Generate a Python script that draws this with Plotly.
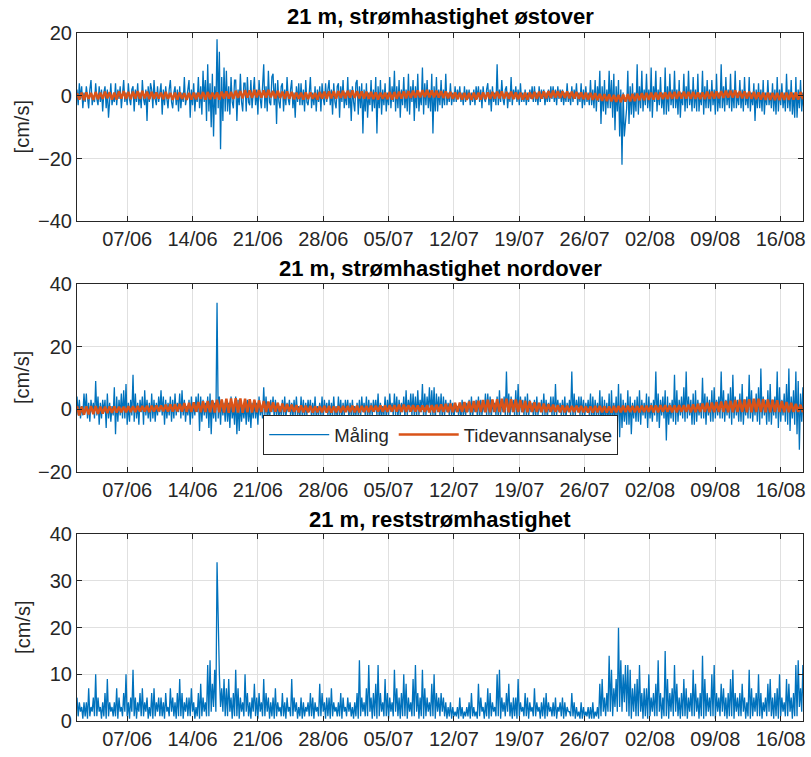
import pandas as pd
import plotly.graph_objects as go

# ---------------- data ----------------
start_time = "2023-06-01 15:00"
x_range = ["2023-06-01 15:00", "2023-08-18 09:20"]
tick_start = "2023-06-07"
tick_labels_fmt = "%d/%m"

# measured series: 3-hourly, one row per day
east_meas = [
    2, -3, 4, -1, 3, -4, 1, -2,
    3, -2, -4, 2, 5, -3, 0, -2,
    4, -1, -3, 3, -2, 2, -5, 1,
    3, -4, 2, -7, 1, 4, -3, 0,
    -2, 4, -3, 2, -1, 3, -4, 2,
    5, -2, 1, -3, 4, -1, -3, 2,
    3, -5, 2, -2, 4, -3, 1, -4,
    5, -1, -3, 2, -8, 3, -2, 4,
    2, -4, 5, -1, -3, 3, -2, 1,
    4, -6, 2, -3, 3, -1, -4, 2,
    5, -2, -4, 1, 3, -3, 2, -5,
    3, -4, 1, -2, 6, -3, -1, 2,
    5, -7, 2, -3, 4, -5, 1, -2,
    6, -4, 3, -6, 8, -2, 5, -8,
    10, -5, 4, -10, 7, -13, 3, -6,
    18, -4, 14, -17, 6, -8, 9, -5,
    8, -5, 3, -6, 6, -2, -4, 5,
    5, -8, 2, -3, 7, -2, -5, 4,
    4, -5, 6, -2, -3, 5, -4, 2,
    6, -3, 2, -6, 5, -1, -4, 3,
    10, -4, 3, -5, 8, -2, -3, 6,
    7, -3, 4, -9, 5, -2, -4, 3,
    4, -5, 2, -3, 6, -1, -3, 2,
    5, -4, 1, -7, 3, -2, 4, -3,
    4, -3, 2, -5, 5, -2, -3, 1,
    6, -4, 1, -3, 3, -5, 2, -2,
    3, -5, 4, -1, -3, 4, -2, 2,
    5, -3, 2, -6, 4, -2, -4, 3,
    4, -7, 3, -2, 5, -4, 1, -3,
    6, -4, 2, -8, 3, -2, -5, 4,
    5, -6, 3, -4, 4, -12, 2, -5,
    4, -7, 1, -3, 5, -5, 2, -4,
    6, -12, 3, -4, 5, -6, 2, -3,
    4, -5, 1, -3, 6, -4, 3, -2,
    8, -5, 3, -4, 5, -7, 2, -3,
    6, -4, 2, -5, 7, -6, 3, -2,
    5, -8, 3, -4, 7, -5, 1, -3,
    9, -6, 4, -3, 5, -4, 2, -5,
    7, -12, 3, -5, 6, -5, 2, -3,
    5, -4, 2, -3, 7, -3, 1, -2,
    4, -3, 1, -2, 3, -2, 2, -1,
    3, -2, 1, -3, 3, -2, 2, -1,
    2, -3, 1, -2, 2, -3, 3, -1,
    3, -2, 2, -4, 3, -1, -2, 2,
    4, -3, 2, -5, 3, -2, 1, -3,
    10, -3, 2, -2, 5, -1, -3, 2,
    3, -4, 1, -2, 6, -3, 2, -1,
    3, -2, 2, -3, 4, -2, 1, -2,
    2, -3, 1, -2, 2, -1, 3, -2,
    3, -2, 1, -3, 3, -2, 2, -1,
    2, -3, 1, -2, 2, -2, 3, -1,
    3, -2, 2, -3, 3, -1, 2, -2,
    2, -3, 1, -2, 4, -2, 1, -3,
    3, -2, 2, -1, 4, -3, 1, -2,
    4, -4, 2, -3, 3, -2, 1, -3,
    5, -3, 2, -4, 5, -5, 3, -2,
    8, -9, 3, -5, 5, -6, 2, -4,
    8, -4, 5, -7, 7, -11, 3, -5,
    5, -13, 2, -22, 1, -13, -8, -4,
    8, -9, 3, -6, 4, -7, 1, -5,
    10, -6, 3, -4, 8, -5, 2, -3,
    7, -4, 2, -5, 9, -7, 3, -2,
    8, -5, 2, -3, 6, -4, 1, -6,
    9, -6, 3, -5, 7, -3, 2, -4,
    8, -4, 2, -6, 5, -7, 1, -3,
    7, -5, 3, -4, 8, -3, 2, -5,
    6, -4, 2, -5, 7, -5, 1, -3,
    8, -6, 3, -4, 5, -4, 2, -5,
    5, -3, 2, -6, 7, -5, 1, -4,
    10, -4, 3, -5, 6, -3, 2, -4,
    7, -5, 2, -4, 8, -4, 1, -3,
    5, -4, 2, -5, 6, -3, 1, -4,
    6, -5, 1, -3, 4, -8, 2, -4,
    4, -4, 2, -5, 5, -6, 1, -3,
    5, -3, 1, -4, 4, -5, 2, -6,
    6, -5, 2, -3, 4, -4, 1, -5,
    7, -4, 2, -5, 5, -6, 1, -7,
    6, -7, 2, -4, 5, -5, 1, -6,
]

north_meas = [
    4, -2, 3, -3, 1, -2, 5, -1,
    5, -3, 2, -4, 3, -1, 2, -3,
    9, -2, 4, -5, 2, -3, 3, -1,
    3, -6, 5, -3, 2, -4, 1, -2,
    7, -8, 4, -4, 3, -2, 5, -3,
    6, -3, 8, -5, 2, -4, 3, -2,
    11, -4, 5, -3, 2, -5, 3, -1,
    4, -5, 6, -2, 3, -3, 2, -4,
    5, -3, 3, -4, 2, -2, 4, -1,
    6, -2, 4, -5, 3, -3, 2, -2,
    4, -4, 3, -3, 5, -2, 2, -1,
    5, -3, 6, -2, 3, -4, 1, -2,
    3, -5, 4, -3, 2, -2, 4, -1,
    5, -7, 4, -4, 3, -2, 2, -3,
    4, -6, 5, -8, 3, -3, 2, -4,
    34, -3, 4, -5, 3, -2, 2, -4,
    3, -4, 2, -6, 4, -3, 1, -5,
    4, -8, 3, -7, 2, -4, 1, -3,
    2, -5, 3, -4, 1, -6, 2, -3,
    3, -3, 2, -5, 4, -2, 1, -3,
    7, -2, 4, -3, 2, -4, 3, -1,
    4, -3, 3, -2, 2, -3, 1, -2,
    3, -2, 4, -3, 2, -1, 3, -2,
    2, -3, 3, -2, 4, -2, 1, -3,
    4, -2, 3, -3, 2, -2, 3, -1,
    3, -3, 2, -2, 4, -3, 1, -2,
    2, -2, 4, -3, 3, -1, 2, -2,
    3, -3, 2, -2, 4, -2, 1, -3,
    4, -2, 3, -3, 2, -2, 3, -1,
    3, -3, 2, -2, 3, -3, 1, -2,
    2, -2, 3, -3, 4, -1, 2, -2,
    4, -3, 3, -2, 2, -2, 3, -1,
    3, -2, 5, -3, 2, -3, 1, -2,
    4, -3, 3, -2, 5, -1, 2, -2,
    5, -2, 4, -3, 3, -2, 2, -1,
    4, -3, 6, -2, 3, -1, 5, -2,
    5, -2, 4, -3, 6, -2, 3, -1,
    8, -3, 5, -2, 4, -1, 7, -2,
    6, -2, 7, -4, 5, -1, 4, -2,
    5, -3, 4, -2, 3, -1, 2, -2,
    3, -2, 2, -3, 2, -1, 1, -2,
    2, -3, 3, -2, 1, -2, 2, -1,
    3, -2, 4, -3, 2, -1, 3, -2,
    4, -3, 3, -2, 2, -1, 5, -2,
    5, -2, 4, -3, 3, -1, 2, -2,
    4, -3, 6, -2, 3, -1, 4, -2,
    12, -2, 5, -3, 4, -1, 3, -2,
    6, -3, 8, -2, 4, -1, 3, -2,
    4, -2, 5, -3, 3, -1, 2, -2,
    3, -3, 4, -2, 2, -1, 3, -2,
    5, -2, 3, -3, 2, -1, 4, -2,
    4, -3, 8, -2, 3, -1, 2, -2,
    3, -2, 4, -3, 2, -1, 3, -2,
    12, -3, 5, -2, 3, -1, 4, -2,
    4, -2, 3, -3, 2, -1, 3, -2,
    5, -4, 4, -3, 3, -2, 2, -3,
    6, -5, 4, -6, 3, -3, 2, -4,
    5, -7, 6, -4, 2, -3, 4, -5,
    8, -9, 5, -6, 3, -4, 2, -5,
    6, -5, 4, -8, 2, -3, 3, -4,
    4, -4, 6, -5, 3, -2, 2, -3,
    5, -6, 4, -3, 2, -4, 3, -2,
    12, -4, 5, -6, 3, -2, 4, -3,
    6, -10, 4, -5, 2, -3, 3, -4,
    11, -5, 6, -4, 3, -2, 4, -3,
    7, -4, 12, -3, 4, -2, 3, -5,
    5, -5, 6, -4, 3, -2, 2, -3,
    10, -3, 5, -5, 4, -2, 3, -4,
    6, -4, 7, -3, 3, -2, 4, -3,
    12, -3, 6, -4, 3, -2, 5, -3,
    7, -5, 11, -3, 4, -2, 3, -4,
    5, -4, 8, -5, 3, -2, 4, -3,
    11, -3, 6, -4, 3, -2, 5, -4,
    7, -5, 13, -3, 4, -2, 3, -5,
    6, -4, 8, -5, 3, -2, 4, -3,
    12, -6, 7, -4, 3, -2, 5, -4,
    8, -5, 13, -7, 4, -3, 6, -5,
    12, -8, 9, -13, 5, -4, 7, -10,
]

resid_meas = [
    5, 1, 4, 2, 3, 0.5, 4, 1,
    4, 0.5, 7, 1, 3, 2, 5, 1,
    10, 1, 5, 2, 3, 0.5, 4, 1,
    6, 0.5, 9, 1, 4, 2, 3, 1,
    4, 1, 7, 0.5, 5, 2, 3, 1,
    6, 2, 10, 1, 4, 0.5, 5, 2,
    11, 1, 5, 0.5, 4, 2, 6, 1,
    7, 1, 4, 2, 5, 0.5, 3, 1,
    6, 0.5, 7, 1, 4, 2, 5, 1,
    5, 1, 4, 0.5, 6, 2, 3, 1,
    7, 2, 5, 1, 4, 0.5, 6, 1,
    9, 1, 6, 0.5, 4, 2, 5, 1,
    5, 1, 7, 2, 4, 0.5, 3, 1,
    6, 0.5, 8, 1, 5, 2, 4, 1,
    12, 1, 13, 2, 8, 3, 11, 2,
    34, 18, 10, 3, 7, 2, 9, 1,
    7, 1, 9, 2, 5, 0.5, 6, 1,
    11, 1, 7, 0.5, 5, 2, 4, 1,
    10, 2, 6, 1, 4, 0.5, 5, 2,
    8, 1, 5, 0.5, 6, 2, 4, 1,
    9, 1, 6, 2, 5, 0.5, 4, 1,
    5, 0.5, 7, 1, 4, 2, 3, 1,
    6, 1, 4, 0.5, 5, 2, 3, 1,
    9, 1, 5, 2, 4, 0.5, 3, 1,
    5, 0.5, 4, 1, 3, 2, 4, 1,
    6, 1, 5, 0.5, 4, 2, 3, 1,
    8, 1, 6, 2, 4, 0.5, 5, 1,
    5, 0.5, 7, 1, 4, 2, 3, 1,
    4, 1, 6, 0.5, 5, 2, 3, 1,
    5, 2, 4, 1, 3, 0.5, 4, 1,
    6, 0.5, 13, 1, 5, 2, 4, 1,
    7, 1, 12, 2, 5, 0.5, 6, 1,
    8, 0.5, 12, 1, 6, 2, 4, 1,
    9, 1, 6, 0.5, 5, 2, 4, 1,
    11, 2, 7, 1, 5, 0.5, 6, 1,
    10, 1, 8, 0.5, 5, 2, 4, 1,
    9, 1, 12, 2, 6, 0.5, 5, 1,
    11, 0.5, 7, 1, 5, 2, 4, 1,
    8, 1, 10, 0.5, 6, 2, 5, 1,
    6, 2, 5, 1, 4, 0.5, 3, 1,
    4, 0.5, 3, 1, 2, 1, 3, 0.5,
    5, 1, 3, 0.5, 2, 1, 3, 1,
    4, 0.5, 6, 1, 3, 1, 2, 0.5,
    8, 1, 5, 2, 3, 0.5, 4, 1,
    7, 0.5, 6, 1, 4, 2, 3, 1,
    10, 1, 11, 0.5, 5, 2, 4, 1,
    6, 2, 8, 1, 4, 0.5, 5, 1,
    5, 0.5, 9, 1, 4, 2, 3, 1,
    6, 1, 5, 0.5, 4, 2, 3, 1,
    7, 1, 4, 2, 3, 0.5, 4, 1,
    5, 0.5, 6, 1, 4, 2, 3, 1,
    4, 1, 5, 0.5, 3, 2, 4, 1,
    5, 0.5, 4, 1, 3, 2, 2, 1,
    6, 1, 4, 0.5, 3, 1, 2, 0.5,
    4, 0.5, 3, 1, 2, 1, 3, 0.5,
    3, 0.5, 4, 0.5, 2, 1, 3, 0.5,
    8, 1, 9, 2, 5, 1, 6, 2,
    14, 2, 11, 1, 7, 3, 9, 2,
    20, 3, 13, 2, 10, 4, 12, 2,
    12, 1, 11, 0.5, 7, 2, 8, 1,
    9, 1, 12, 2, 6, 0.5, 7, 1,
    7, 0.5, 10, 1, 5, 2, 6, 1,
    8, 1, 13, 2, 6, 0.5, 5, 1,
    15, 1, 9, 0.5, 6, 2, 7, 1,
    12, 2, 8, 1, 5, 0.5, 6, 1,
    9, 1, 7, 0.5, 5, 2, 6, 1,
    11, 1, 8, 2, 5, 0.5, 6, 1,
    14, 0.5, 9, 1, 6, 2, 5, 1,
    10, 1, 12, 0.5, 6, 2, 5, 1,
    8, 2, 7, 1, 5, 0.5, 6, 1,
    9, 1, 11, 0.5, 6, 2, 5, 1,
    6, 1, 8, 2, 5, 0.5, 4, 1,
    11, 0.5, 7, 1, 5, 2, 6, 1,
    10, 1, 6, 0.5, 4, 2, 5, 1,
    8, 2, 9, 1, 5, 0.5, 6, 1,
    7, 0.5, 10, 1, 5, 2, 4, 1,
    9, 1, 8, 2, 5, 0.5, 6, 1,
    12, 1, 13, 3, 7, 2, 12, 1,
]

# tidal analysis: 6-hourly
east_tide = [
    0.8, -1.2, 1.0, -1.4, 1.1, -1.0, 0.9, -1.3, 1.2, -1.1, 1.0, -1.0, 1.3, -0.8, 1.1, -1.2,
    1.0, -1.2, 1.4, -0.9, 1.5, -1.0, 1.2, -1.1, 1.3, -0.9, 1.5, -1.0, 1.6, -0.8, 1.3, -1.1,
    1.2, -1.0, 1.1, -0.9, 1.0, -1.1, 1.2, -1.0, 0.9, -1.3, 1.0, -1.2, 1.1, -1.0, 0.8, -1.3,
    0.9, -1.2, 1.0, -1.1, 1.0, -1.0, 1.2, -1.2, 1.2, -1.1, 1.0, -1.0, 1.1, -1.2, 1.3, -0.9,
    1.4, -0.9, 1.2, -1.0, 1.6, -0.7, 1.5, -0.8, 1.8, -0.6, 1.7, -0.7, 1.9, -0.5, 1.8, -0.6,
    1.7, -0.6, 1.9, -0.5, 1.5, -0.8, 1.6, -0.7, 1.3, -1.0, 1.4, -0.9, 1.2, -1.1, 1.0, -1.0,
    1.0, -1.2, 1.1, -1.1, 1.1, -1.0, 0.9, -1.2, 1.2, -0.9, 1.3, -1.0, 1.4, -0.8, 1.5, -0.9,
    1.5, -0.7, 1.6, -0.8, 1.6, -0.6, 1.7, -0.7, 1.5, -0.8, 1.4, -0.9, 1.3, -1.0, 1.2, -1.1,
    1.1, -1.2, 1.0, -1.0, 1.0, -1.1, 1.2, -1.2, 1.2, -1.0, 1.3, -0.9, 1.4, -0.8, 1.5, -0.7,
    1.6, -0.6, 1.7, -0.5, 1.8, -0.4, 1.9, -0.5, 1.7, -0.5, 1.6, -0.6, 1.5, -0.7, 1.4, -0.8,
    1.2, -1.0, 1.1, -1.1, 1.0, -1.2, 0.9, -1.3, 0.9, -1.3, 1.0, -1.2, 1.0, -1.2, 1.1, -1.1,
    1.1, -1.0, 1.2, -0.9, 1.3, -0.8, 1.4, -0.9, 1.2, -1.0, 1.3, -1.1, 1.1, -1.1, 1.0, -1.2,
    1.0, -1.2, 1.1, -1.0, 1.2, -1.0, 1.3, -0.9, 1.4, -0.8, 1.5, -0.7, 1.6, -0.6, 1.5, -0.7,
    1.5, -0.7, 1.4, -0.8, 1.3, -0.9, 1.2, -1.0, 1.1, -1.1, 1.0, -1.2, 0.9, -1.3, 0.8, -1.4,
    0.6, -1.6, 0.5, -1.7, 0.4, -1.8, 0.3, -1.9, 0.3, -2.0, 0.4, -1.9, 0.5, -1.8, 0.6, -1.7,
    0.7, -1.5, 0.8, -1.4, 0.9, -1.3, 1.0, -1.2, 1.0, -1.2, 1.1, -1.1, 1.1, -1.1, 1.2, -1.0,
    1.2, -1.0, 1.3, -0.9, 1.3, -0.9, 1.2, -1.0, 1.2, -1.0, 1.1, -1.1, 1.1, -1.1, 1.3, -1.0,
    1.3, -0.9, 1.4, -0.8, 1.5, -0.7, 1.6, -0.6, 1.6, -0.6, 1.7, -0.7, 1.5, -0.8, 1.4, -0.9,
    1.3, -1.0, 1.2, -1.1, 1.1, -1.2, 1.0, -1.3, 1.0, -1.3, 0.9, -1.4, 0.9, -1.4, 1.0, -1.3,
    1.0, -1.3, 1.1, -1.2, 1.1, -1.2, 1.2, -1.1,
]

north_tide = [
    1.0, -2.0, 0.8, -1.8, 0.9, -1.7, 1.0, -1.6, 1.0, -1.5, 0.8, -1.4, 0.8, -1.3, 0.9, -1.2,
    0.9, -1.1, 0.8, -1.0, 0.8, -1.0, 0.9, -0.9, 0.9, -0.9, 1.0, -0.8, 1.0, -0.8, 1.1, -0.9,
    1.1, -0.8, 1.2, -0.7, 1.2, -0.7, 1.4, -0.8, 1.5, -0.8, 1.6, -0.7, 1.7, -0.8, 1.9, -0.9,
    2.0, -0.9, 2.2, -0.8, 2.3, -1.0, 2.5, -0.9, 2.6, -1.0, 2.8, -1.1, 3.0, -1.0, 3.1, -1.1,
    3.3, -1.2, 3.4, -1.0, 3.5, -1.1, 3.4, -1.2, 3.3, -1.0, 3.2, -1.1, 3.0, -1.0, 2.8, -0.9,
    2.6, -0.9, 2.4, -0.8, 2.2, -0.8, 2.0, -0.9, 1.8, -0.9, 1.6, -0.8, 1.4, -0.9, 1.3, -1.0,
    1.2, -1.0, 1.1, -1.0, 1.0, -1.1, 0.9, -1.0, 0.9, -1.0, 1.0, -1.1, 1.0, -1.1, 0.9, -1.0,
    0.9, -1.0, 1.0, -0.9, 1.0, -0.9, 1.1, -1.0, 1.1, -1.0, 1.0, -0.9, 1.0, -0.9, 1.1, -0.8,
    1.1, -0.8, 1.2, -0.9, 1.2, -0.9, 1.3, -0.8, 1.3, -0.8, 1.4, -0.9, 1.4, -0.9, 1.3, -0.8,
    1.3, -0.8, 1.2, -0.9, 1.2, -0.9, 1.3, -1.0, 1.3, -1.0, 1.4, -0.9, 1.5, -0.9, 1.7, -1.0,
    1.8, -1.0, 2.0, -0.9, 2.1, -0.9, 2.3, -1.0, 2.4, -1.0, 2.6, -0.9, 2.7, -0.9, 2.9, -1.0,
    3.0, -1.0, 3.1, -0.9, 3.2, -0.9, 3.3, -1.0, 3.3, -1.0, 3.2, -0.9, 3.1, -0.9, 2.9, -1.0,
    2.7, -1.0, 2.5, -0.9, 2.2, -0.9, 2.0, -1.0, 1.8, -1.0, 1.6, -0.9, 1.4, -0.9, 1.3, -1.0,
    1.2, -1.0, 1.1, -0.9, 1.0, -0.9, 1.1, -1.0, 1.0, -1.0, 0.9, -1.1, 0.9, -1.1, 1.0, -1.0,
    1.0, -1.0, 0.9, -1.1, 0.9, -1.1, 1.0, -1.0, 1.0, -1.0, 1.1, -0.9, 1.1, -0.9, 1.0, -1.0,
    1.0, -1.0, 1.1, -0.9, 1.1, -0.9, 1.2, -1.0, 1.2, -1.0, 1.3, -0.9, 1.3, -0.9, 1.2, -1.0,
    1.2, -1.0, 1.3, -0.9, 1.3, -0.9, 1.4, -1.0, 1.5, -1.0, 1.7, -0.9, 1.8, -0.9, 2.0, -1.0,
    2.1, -1.0, 2.3, -0.9, 2.4, -0.9, 2.6, -1.0, 2.7, -1.0, 2.9, -0.9, 3.0, -0.9, 3.1, -1.0,
    3.2, -1.0, 3.3, -0.9, 3.3, -0.9, 3.2, -1.0, 3.1, -1.0, 3.0, -0.9, 2.8, -0.9, 2.6, -1.0,
    2.3, -1.0, 2.0, -0.9, 1.7, -0.9, 1.4, -1.0,
]

titles = [
    "21 m, strømhastighet østover",
    "21 m, strømhastighet nordover",
    "21 m, reststrømhastighet",
]
y_label = "[cm/s]"
legend_names = ["Måling", "Tidevannsanalyse"]
y_ranges = [[-40, 20], [-20, 40], [0, 40]]
y_dticks = [20, 20, 10]

# ---------------- figure ----------------
t_meas = pd.date_range(start_time, periods=len(east_meas), freq="3h")
t_tide = pd.date_range(start_time, periods=len(east_tide), freq="6h")

BLUE = "#0072BD"
ORANGE = "#D95319"
AXC = "#262626"
FONT = "Liberation Sans, Arial, sans-serif"
BW = 1.3

fig = go.Figure()
fig.add_trace(go.Scatter(x=t_meas, y=east_meas, mode="lines", line=dict(color=BLUE, width=BW),
                         xaxis="x", yaxis="y", showlegend=False))
fig.add_trace(go.Scatter(x=t_tide, y=east_tide, mode="lines", line=dict(color=ORANGE, width=2.5),
                         xaxis="x", yaxis="y", showlegend=False))
fig.add_trace(go.Scatter(x=t_meas, y=north_meas, mode="lines", line=dict(color=BLUE, width=BW),
                         xaxis="x2", yaxis="y2", name=legend_names[0], showlegend=True))
fig.add_trace(go.Scatter(x=t_tide, y=north_tide, mode="lines", line=dict(color=ORANGE, width=2.5),
                         xaxis="x2", yaxis="y2", name=legend_names[1], showlegend=True))
fig.add_trace(go.Scatter(x=t_meas, y=resid_meas, mode="lines", line=dict(color=BLUE, width=BW),
                         xaxis="x3", yaxis="y3", showlegend=False))

ML, MR, MT, MB = 77, 5, 33, 36
H = 757
plot_h = H - MT - MB
bottom_px = H - MB


def py(ypx):
    return (bottom_px - ypx) / plot_h


domains = [[py(221.3), 1.0], [py(471.7), py(284)], [0.0, py(534.3)]]

xcommon = dict(
    type="date", range=x_range, tick0=tick_start, dtick=7 * 24 * 3600 * 1000,
    tickformat=tick_labels_fmt, showgrid=True, gridcolor="#e0e0e0", gridwidth=1,
    showline=True, linecolor=AXC, linewidth=1.2, mirror="allticks",
    ticks="inside", ticklen=5, tickcolor=AXC, tickwidth=1,
    tickfont=dict(family=FONT, size=20, color=AXC), zeroline=False,
)
ycommon = dict(
    showgrid=True, gridcolor="#e0e0e0", gridwidth=1,
    showline=True, linecolor=AXC, linewidth=1.2, mirror="allticks",
    ticks="inside", ticklen=5, tickcolor=AXC, tickwidth=1,
    tickfont=dict(family=FONT, size=20, color=AXC), zeroline=False,
)

layout = dict(
    width=811, height=757,
    margin=dict(l=ML, r=MR, t=MT, b=MB, pad=0),
    paper_bgcolor="white", plot_bgcolor="white",
    font=dict(family=FONT, size=20, color=AXC),
    legend=dict(
        x=0.501, y=py(415), xanchor="center", yanchor="top",
        orientation="h", bgcolor="white", bordercolor=AXC, borderwidth=1,
        font=dict(family=FONT, size=18.5, color=AXC), itemwidth=60,
        tracegroupgap=0,
    ),
)

for i in range(3):
    sx = "" if i == 0 else str(i + 1)
    layout["xaxis" + sx] = dict(xcommon, anchor="y" + sx, domain=[0, 1])
    layout["yaxis" + sx] = dict(ycommon, anchor="x" + sx, domain=domains[i],
                                range=y_ranges[i], dtick=y_dticks[i])

fig.update_layout(**layout)

title_px = [16, 268, 519]
annotations = []
for i in range(3):
    annotations.append(dict(
        text="<b>" + titles[i] + "</b>", xref="paper", yref="paper",
        x=0.5, y=py(title_px[i]), xanchor="center", yanchor="middle",
        showarrow=False, font=dict(family=FONT, size=22, color="black"),
    ))
    mid_px = (bottom_px - domains[i][0] * plot_h + bottom_px - domains[i][1] * plot_h) / 2
    annotations.append(dict(
        text=y_label, xref="paper", yref="paper",
        x=(22 - ML) / (811 - ML - MR), y=py(mid_px), xanchor="center", yanchor="middle",
        textangle=-90, showarrow=False, font=dict(family=FONT, size=20, color=AXC),
    ))
fig.update_layout(annotations=annotations)

fig.write_html("out.html")
